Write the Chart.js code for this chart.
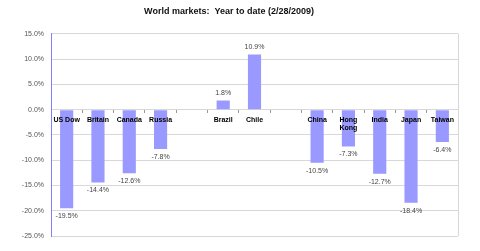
<!DOCTYPE html>
<html>
<head>
<meta charset="utf-8">
<script src="https://cdn.jsdelivr.net/npm/chart.js@4"></script>
<style>
  html, body { margin: 0; padding: 0; background: #fff; }
  #wrap { width: 480px; height: 251px; }
</style>
</head>
<body>
<div id="wrap"><canvas id="chart"></canvas></div>
<script>
// categories (blank slots separate the regions)
const markets = ['US Dow', 'Britain', 'Canada', 'Russia', '', 'Brazil', 'Chile', '', 'China', ['Hong', 'Kong'], 'India', 'Japan', 'Taiwan'];
// year to date change, %
const ytd = [-19.5, -14.4, -12.6, -7.8, null, 1.8, 10.9, null, -10.5, -7.3, -12.7, -18.4, -6.4];
const yTicks = [15, 10, 5, 0, -5, -10, -15, -20, -25];

// value labels under/over each bar
const valueLabels = {
  id: 'valueLabels',
  afterDatasetsDraw(chart) {
    const ctx = chart.ctx;
    const meta = chart.getDatasetMeta(0);
    ctx.save();
    ctx.font = '7px "Liberation Sans", Arial, sans-serif';
    ctx.fillStyle = '#444';
    ctx.textAlign = 'center';
    ctx.textBaseline = 'middle';
    meta.data.forEach((bar, i) => {
      const v = ytd[i];
      if (v === null) return;
      const y = v < 0 ? bar.y + 8 : bar.y - 7;
      ctx.fillText(v.toFixed(1) + '%', bar.x, y);
    });
    ctx.restore();
  }
};

// grey line on the right side of the plot
const rightBorder = {
  id: 'rightBorder',
  beforeDatasetsDraw(chart) {
    const { ctx, chartArea } = chart;
    ctx.save();
    ctx.strokeStyle = '#d8d8d8';
    ctx.lineWidth = 1;
    ctx.beginPath();
    ctx.moveTo(Math.round(chartArea.right) + 0.5, chartArea.top);
    ctx.lineTo(Math.round(chartArea.right) + 0.5, chartArea.bottom);
    ctx.stroke();
    ctx.restore();
  }
};

new Chart(document.getElementById('chart'), {
  type: 'bar',
  data: {
    labels: markets,
    datasets: [{
      data: ytd,
      backgroundColor: '#9999ff',
      borderWidth: 0,
      categoryPercentage: 1,
      barPercentage: 0.42
    }]
  },
  options: {
    responsive: true,
    maintainAspectRatio: false,
    animation: false,
    layout: { padding: { left: 0, right: 22, top: 0, bottom: 15 } },
    plugins: {
      legend: { display: false },
      tooltip: { enabled: false },
      title: {
        display: true,
        text: 'World markets:  Year to date (2/28/2009)',
        color: '#111',
        font: { family: '"Liberation Sans", Arial, sans-serif', size: 9, weight: 'bold' },
        padding: { top: 6, bottom: 17 }
      }
    },
    scales: {
      x: {
        position: { y: 0 },
        grid: { display: true, drawOnChartArea: false, drawTicks: true, tickLength: 3, color: '#999' },
        border: { display: false },
        ticks: {
          z: 1, // category names sit on top of the bars
          color: '#000',
          padding: 4,
          maxRotation: 0,
          autoSkip: false,
          font: { family: '"Liberation Sans", Arial, sans-serif', size: 7, weight: 'bold', lineHeight: 1.1 }
        }
      },
      y: {
        min: -25,
        max: 15,
        afterFit(scale) { scale.width = 51; },
        afterBuildTicks(scale) { scale.ticks = yTicks.map(v => ({ value: v })); },
        grid: { color: '#d8d8d8', drawTicks: false },
        border: { color: '#8080ff', width: 1 },
        ticks: {
          color: '#555',
          padding: 7,
          font: { family: '"Liberation Sans", Arial, sans-serif', size: 7 },
          callback: v => v.toFixed(1) + '%'
        }
      }
    }
  },
  plugins: [valueLabels, rightBorder]
});
</script>
</body>
</html>
